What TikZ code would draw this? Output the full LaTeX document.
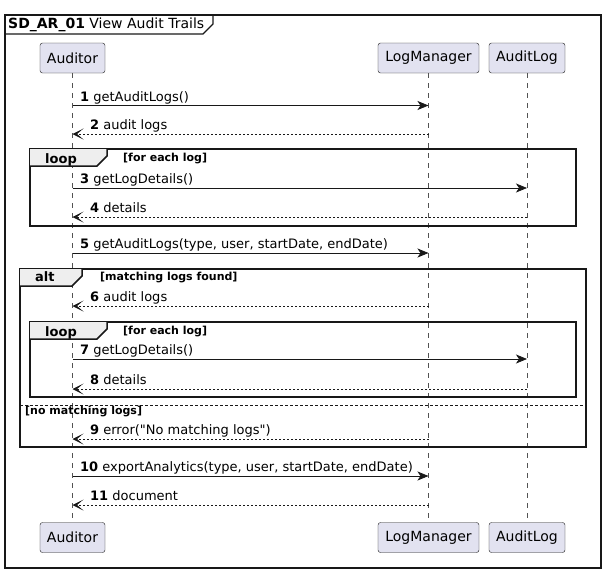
\documentclass[tikz,border=0pt]{standalone}
\usepackage{fontspec}
\setmainfont{DejaVu Sans}[Ligatures=TeXOff]
\usetikzlibrary{arrows.meta}
\definecolor{partfill}{HTML}{E2E2F0}
\definecolor{partline}{HTML}{181818}
\definecolor{tabfill}{HTML}{EEEEEE}
\tikzset{
    part/.style={draw=partline,fill=partfill,rounded corners=2.5pt,minimum height=30pt,inner sep=0pt,font=\fontsize{14}{16}\selectfont},
    life/.style={draw=partline!75,line width=0.5pt,dash pattern=on 5pt off 5pt},
    call/.style={draw=partline,line width=0.8pt,-{Stealth[length=11pt,width=9pt,inset=3pt]}},
    ret/.style={draw=partline,line width=0.8pt,dash pattern=on 2pt off 2pt,-{Stealth[length=11pt,width=11pt,inset=6.5pt]}},
    msg/.style={anchor=base west,inner sep=0pt,font=\fontsize{13}{15}\selectfont},
    guard/.style={anchor=base west,inner sep=0pt,font=\fontsize{11}{13}\selectfont\bfseries},
    frame/.style={draw=partline,line width=1.5pt},
    tab/.style={draw=partline,line width=1.5pt,fill=tabfill},
}

\begin{document}
\begin{tikzpicture}[x=1pt,y=-1pt]
            \useasboundingbox (0,0) rectangle (607,573);
            % outer frame
            \draw[partline,line width=1.2pt] (5,15) rectangle (601,568);
            \draw[partline,line width=1.2pt] (5,34)--(203,34)--(213,24)--(213,15);
            \node[anchor=base west,inner sep=0pt,font=\fontsize{14}{16}\selectfont] (T) at (8,28) {\textbf{SD\_AR\_01} View Audit Trails};
            % participants
            \node[part,minimum width=65pt] (A) at (72.5,58) {Auditor};
            \node[part,minimum width=101pt] (L) at (428.5,58) {LogManager};
            \node[part,minimum width=76pt] (G) at (527,58) {AuditLog};
            \node[part,minimum width=65pt] (A2) at (72.5,537.5) {Auditor};
            \node[part,minimum width=101pt] (L2) at (428.5,537.5) {LogManager};
            \node[part,minimum width=76pt] (G2) at (527,537.5) {AuditLog};
            \draw[life] (A.south)--(A2.north);
            \draw[life] (L.south)--(L2.north);
            \draw[life] (G.south)--(G2.north);
            % message rows
            \coordinate (m1) at (0,105.5);
            \coordinate (m2) at (0,134);
            \coordinate (m3) at (0,188);
            \coordinate (m4) at (0,217);
            \coordinate (m5) at (0,253);
            \coordinate (m6) at (0,306);
            \coordinate (m7) at (0,359);
            \coordinate (m8) at (0,389);
            \coordinate (m9) at (0,439);
            \coordinate (m10) at (0,476);
            \coordinate (m11) at (0,505);
            % first loop
            \draw[frame] (30,149) rectangle (576,226);
            \fill[tabfill] (30,149)--(107,149)--(107,156)--(97,166)--(30,166)--cycle;
            \draw[frame] (30,166)--(97,166)--(107,156)--(107,149);
            \node[anchor=base west,inner sep=0pt,font=\fontsize{13}{15}\selectfont\bfseries] (lp1) at (45,163) {loop};
            \node[guard] (g1) at (123,161.5) {[for each log]};
            % alt
            \draw[frame] (20,269) rectangle (586,447);
            \fill[tabfill] (20,269)--(82,269)--(82,276)--(72,286)--(20,286)--cycle;
            \draw[frame] (20,286)--(72,286)--(82,276)--(82,269);
            \node[anchor=base west,inner sep=0pt,font=\fontsize{13}{15}\selectfont\bfseries] (al) at (35,281.5) {alt};
            \node[guard] (g2) at (100,280.5) {[matching logs found]};
            \draw[partline,line width=0.8pt,dash pattern=on 2.5pt off 2.5pt] (20,405)--(586,405);
            \node[guard] (g3) at (25,414.5) {[no matching logs]};
            % second loop
            \draw[frame] (30,322) rectangle (576,397);
            \fill[tabfill] (30,322)--(107,322)--(107,329)--(97,339)--(30,339)--cycle;
            \draw[frame] (30,339)--(97,339)--(107,329)--(107,322);
            \node[anchor=base west,inner sep=0pt,font=\fontsize{13}{15}\selectfont\bfseries] (lp2) at (45,336) {loop};
            \node[guard] (g4) at (123,334.5) {[for each log]};
            % messages
            \draw[call] (A |- m1)--(L |- m1);
            \node[msg] (t1) at (80,101) {\textbf{1} getAuditLogs()};
            \draw[ret] (L |- m2)--(A |- m2);
            \node[msg] (t2) at (90,129.5) {\textbf{2} audit logs};
            \draw[call] (A |- m3)--(G |- m3);
            \node[msg] (t3) at (80,183.5) {\textbf{3} getLogDetails()};
            \draw[ret] (G |- m4)--(A |- m4);
            \node[msg] (t4) at (90,212.5) {\textbf{4} details};
            \draw[call] (A |- m5)--(L |- m5);
            \node[msg] (t5) at (80,248.5) {\textbf{5} getAuditLogs(type, user, startDate, endDate)};
            \draw[ret] (L |- m6)--(A |- m6);
            \node[msg] (t6) at (90,301.5) {\textbf{6} audit logs};
            \draw[call] (A |- m7)--(G |- m7);
            \node[msg] (t7) at (80,354.5) {\textbf{7} getLogDetails()};
            \draw[ret] (G |- m8)--(A |- m8);
            \node[msg] (t8) at (90,384.5) {\textbf{8} details};
            \draw[ret] (L |- m9)--(A |- m9);
            \node[msg] (t9) at (90,434.5) {\textbf{9} error("No matching logs")};
            \draw[call] (A |- m10)--(L |- m10);
            \node[msg] (t10) at (80,471.5) {\textbf{10} exportAnalytics(type, user, startDate, endDate)};
            \draw[ret] (L |- m11)--(A |- m11);
            \node[msg] (t11) at (90,500.5) {\textbf{11} document};
        \end{tikzpicture}
\end{document}
